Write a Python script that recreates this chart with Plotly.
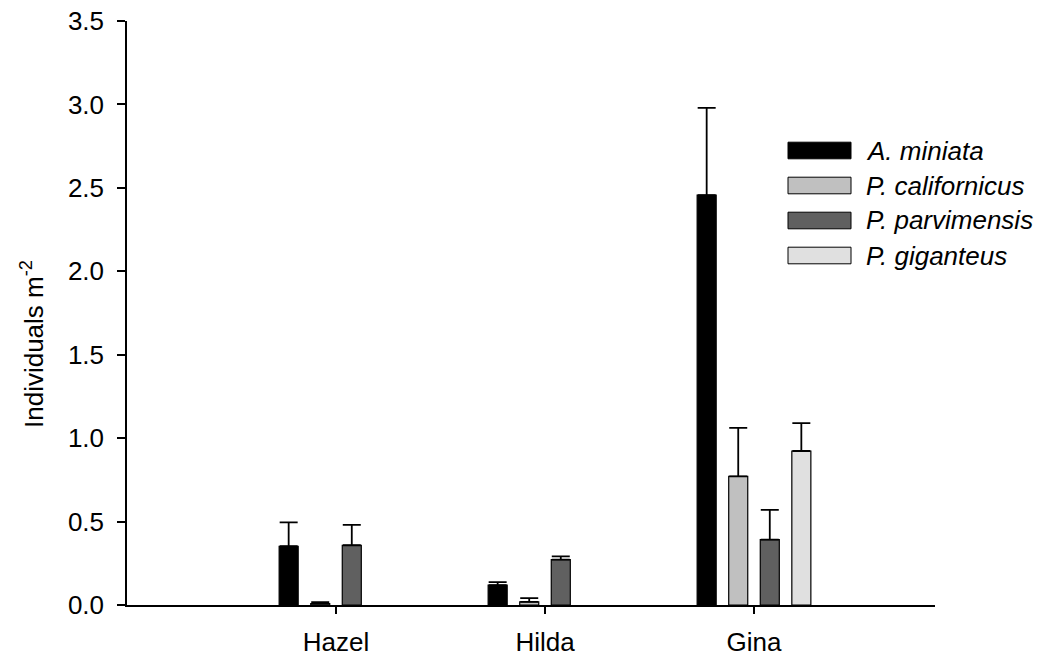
import plotly.graph_objects as go

sites = ["Hazel", "Hilda", "Gina"]
species = ["A. miniata", "P. californicus", "P. parvimensis", "P. giganteus"]
colors = ["#000000", "#c0c0c0", "#606060", "#e0e0e0"]

miniata = [0.352, 0.119, 2.457]
miniata_err = [0.143, 0.018, 0.522]
californicus = [0.008, 0.019, 0.771]
californicus_err = [0.009, 0.022, 0.290]
parvimensis = [0.358, 0.272, 0.392]
parvimensis_err = [0.122, 0.020, 0.178]
giganteus = [None, None, 0.923]
giganteus_err = [0, 0, 0.167]

values = [miniata, californicus, parvimensis, giganteus]
errors = [miniata_err, californicus_err, parvimensis_err, giganteus_err]

FONT = "Arial, Liberation Sans, sans-serif"
FS = 26

fig = go.Figure()
for name, vals, errs, col in zip(species, values, errors, colors):
    fig.add_trace(go.Bar(
        x=sites, y=vals, name=name,
        marker=dict(color=col, line=dict(color="#000000", width=1.2)),
        error_y=dict(type="data", array=errs, arrayminus=[0] * len(errs),
                     symmetric=False, color="#000000", thickness=1.8, width=9),
        showlegend=False,
    ))

# plot-area pixel geometry used for the hand-drawn legend
L, R, T, B = 127, 935, 21, 605
W, H = R - L, B - T
def px(x):
    return (x - L) / W
def py(y):
    return (B - y) / H

shapes = []
annotations = []
row_y = [150.5, 185.5, 220.5, 255.5]
for name, col, yc in zip(species, colors, row_y):
    shapes.append(dict(type="rect", xref="paper", yref="paper",
                       x0=px(788), x1=px(851), y0=py(yc + 8.3), y1=py(yc - 8.3),
                       fillcolor=col, line=dict(color="#000000", width=1)))
    annotations.append(dict(xref="paper", yref="paper", x=px(864), y=py(yc),
                            xanchor="left", yanchor="middle", showarrow=False,
                            text=f"<i>{name}</i>",
                            font=dict(family=FONT, size=FS, color="#000000")))

annotations.append(dict(xref="paper", yref="paper", x=px(32), y=py(344),
                        xanchor="center", yanchor="middle", showarrow=False,
                        textangle=-90, text="Individuals m<sup>-2</sup>",
                        font=dict(family=FONT, size=FS, color="#000000")))

fig.update_layout(
    width=1050, height=659,
    margin=dict(l=L, r=1050 - R, t=T, b=659 - B, autoexpand=False),
    paper_bgcolor="white", plot_bgcolor="white",
    barmode="group", bargap=0.396, bargroupgap=0.397,
    font=dict(family=FONT, size=FS, color="#000000"),
    shapes=shapes, annotations=annotations,
    xaxis=dict(type="category", range=[-1, 2.866], showline=True,
               linecolor="#000000", linewidth=1.5, ticks="outside",
               ticklen=7, tickwidth=1.5, tickcolor="#000000",
               showgrid=False, zeroline=False, automargin=False,
               ticklabelstandoff=6,
               tickfont=dict(family=FONT, size=FS, color="#000000")),
    yaxis=dict(range=[0, 3.5], dtick=0.5, tickformat=".1f", showline=True,
               linecolor="#000000", linewidth=1.5, ticks="outside",
               ticklen=8, tickwidth=1.5, tickcolor="#000000",
               showgrid=False, zeroline=False, automargin=False,
               ticklabelstandoff=8,
               tickfont=dict(family=FONT, size=FS, color="#000000")),
)

fig.write_html("out.html")
